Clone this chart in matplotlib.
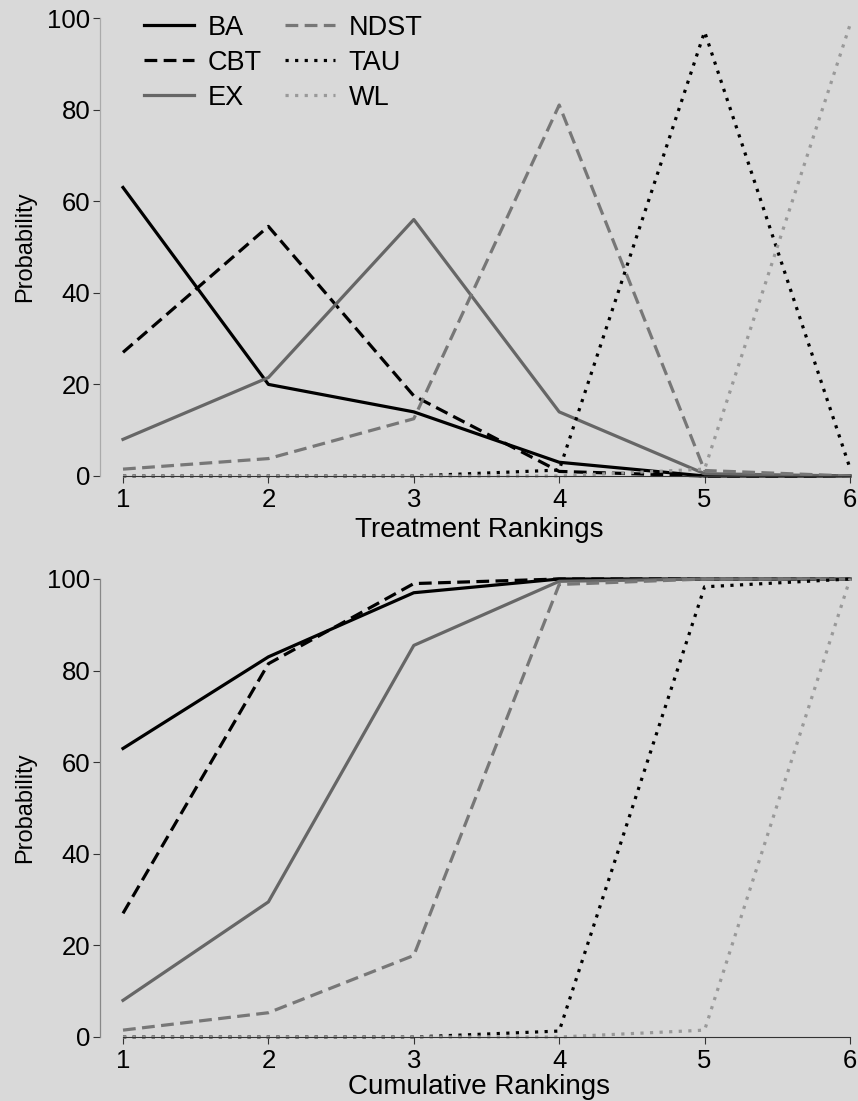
import numpy as np
import matplotlib
matplotlib.use('Agg')
import matplotlib.pyplot as plt

plt.rcParams['font.family'] = ['Liberation Sans', 'DejaVu Sans']

# Rank probabilities (%)
ranks = [1, 2, 3, 4, 5, 6]
treatments = ['BA', 'CBT', 'EX', 'NDST', 'TAU', 'WL']
ba = [63, 20, 14, 3, 0, 0]
cbt = [27, 54.5, 17.5, 1, 0, 0]
ex = [8, 21.5, 56, 14, 0.5, 0]
ndst = [1.5, 3.8, 12.5, 81, 1.2, 0]
tau = [0, 0, 0, 1.3, 97, 1.7]
wl = [0, 0, 0, 0, 1.5, 98.5]
series = [ba, cbt, ex, ndst, tau, wl]

# line styles
colors = ['black', 'black', '#666666', '#777777', 'black', '#999999']
styles = ['-', (0, (4, 2)), '-', (0, (4, 2)), (0, (1, 2)), (0, (1, 2))]

bg = '#d9d9d9'
fig = plt.figure(figsize=(8.58, 11.01), dpi=100, facecolor=bg)

W, H = 858, 1101
left = 100 / W
width = 1 - left
ax1 = fig.add_axes([left, (H - 476) / H, width, 458 / H], facecolor=bg)
ax2 = fig.add_axes([left, (H - 1037) / H, width, 458 / H], facecolor=bg)

for ax, cum, xlab in [(ax1, False, 'Treatment Rankings'), (ax2, True, 'Cumulative Rankings')]:
    for name, vals, c, ls in zip(treatments, series, colors, styles):
        y = np.cumsum(vals) if cum else np.array(vals)
        ax.plot(ranks, y, color=c, linestyle=ls, lw=2.3, label=name, clip_on=False)
    ax.set_xlim(1 - 23 / 145.4, 6 + 8 / 145.4)
    ax.set_ylim(0, 100)
    ax.set_xticks(ranks)
    ax.set_yticks([0, 20, 40, 60, 80, 100])
    for s in ['top', 'right']:
        ax.spines[s].set_visible(False)
    ax.spines['left'].set_bounds(0, 100)
    ax.spines['left'].set_color('#aaaaaa' if not cum else '#888888')
    ax.spines['left'].set_linewidth(0.9)
    ax.spines['bottom'].set_bounds(1, 6)
    ax.spines['bottom'].set_color('#333333')
    ax.spines['bottom'].set_linewidth(0.8)
    ax.tick_params(axis='both', labelsize=18.5, colors='#333333', length=5, width=0.8,
                   labelcolor='black')
    ax.tick_params(axis='x', pad=4)
    ax.tick_params(axis='y', pad=2)
    ax.set_xlabel(xlab, fontsize=20, labelpad=0 if cum else 3)
    ax.set_ylabel('Probability', fontsize=17, labelpad=8)

ax1.legend(ncol=2, loc='upper left', bbox_to_anchor=(0.026, 1.06), frameon=False,
           fontsize=19.5, handlelength=1.85, columnspacing=0.85, labelspacing=0.33,
           handletextpad=0.5)

plt.savefig('out.png', dpi=100, facecolor=bg)
